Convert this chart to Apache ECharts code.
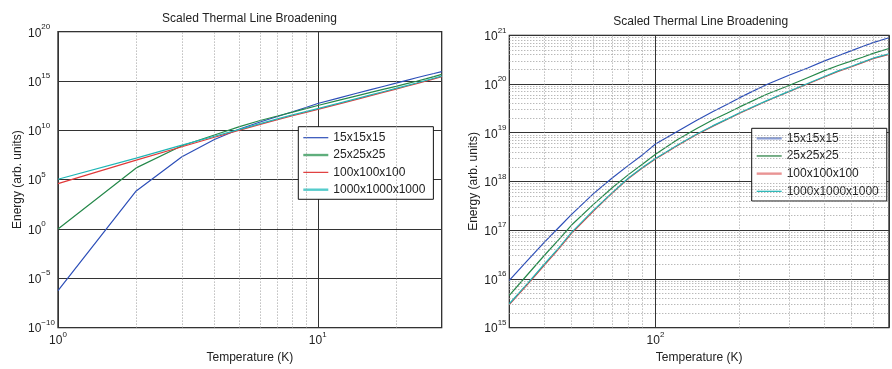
<!DOCTYPE html>
<html>
<head>
<meta charset="utf-8">
<title>Scaled Thermal Line Broadening</title>
<script src="https://cdn.jsdelivr.net/npm/echarts@6/dist/echarts.min.js"></script>
<style>
  html, body { margin: 0; padding: 0; background: #fff; }
  #chart { width: 892px; height: 369px; }
</style>
</head>
<body>
<div id="chart"></div>
<script>
// Lattice sizes of the four runs
const seriesNames = ['15x15x15', '25x25x25', '100x100x100', '1000x1000x1000'];

// Low-temperature sweep: temperature (K) and log10 of the energy (arb. units)
const lowTemps   = [1, 2, 3, 4, 5, 6, 7, 8, 9, 10, 12, 14, 16, 18, 20, 22, 24, 26, 28, 30];
const lowExp15   = [-6.26, 3.85, 7.32, 9.07, 10.13, 10.84, 11.40, 11.88, 12.31, 12.72, 13.27, 13.73, 14.13, 14.47, 14.78, 15.07, 15.33, 15.56, 15.76, 15.95];
const lowExp25   = [0.00, 6.19, 8.44, 9.53, 10.37, 11.00, 11.45, 11.85, 12.20, 12.52, 13.03, 13.47, 13.85, 14.17, 14.46, 14.73, 14.98, 15.22, 15.45, 15.67];
const lowExp100  = [4.60, 6.98, 8.34, 9.30, 10.02, 10.60, 11.08, 11.48, 11.82, 12.12, 12.66, 13.12, 13.52, 13.87, 14.18, 14.47, 14.73, 14.98, 15.22, 15.44];
const lowExp1000 = [5.04, 7.18, 8.50, 9.40, 10.10, 10.68, 11.16, 11.56, 11.90, 12.20, 12.73, 13.19, 13.59, 13.94, 14.25, 14.54, 14.80, 15.05, 15.28, 15.50];

// High-temperature sweep: temperature (K) and log10 of the energy (arb. units)
const highTemps   = [30, 35, 40, 45, 50, 60, 70, 80, 90, 100, 120, 140, 160, 180, 200, 250, 300, 350, 400, 450, 500, 550, 600, 684];
const highExp15   = [15.97, 16.39, 16.75, 17.05, 17.32, 17.75, 18.07, 18.33, 18.55, 18.77, 19.03, 19.25, 19.43, 19.58, 19.72, 19.99, 20.18, 20.33, 20.47, 20.58, 20.68, 20.77, 20.85, 20.95];
const highExp25   = [15.66, 16.10, 16.48, 16.80, 17.10, 17.53, 17.87, 18.14, 18.36, 18.56, 18.86, 19.08, 19.26, 19.40, 19.53, 19.79, 19.97, 20.13, 20.27, 20.38, 20.47, 20.55, 20.63, 20.73];
const highExp100  = [15.47, 15.90, 16.28, 16.61, 16.93, 17.39, 17.76, 18.06, 18.28, 18.46, 18.74, 18.96, 19.13, 19.27, 19.40, 19.65, 19.84, 20.00, 20.14, 20.26, 20.35, 20.44, 20.52, 20.61];
const highExp1000 = [15.49, 15.92, 16.30, 16.63, 16.95, 17.41, 17.77, 18.07, 18.29, 18.47, 18.75, 18.97, 19.14, 19.28, 19.41, 19.66, 19.85, 20.01, 20.15, 20.27, 20.36, 20.45, 20.53, 20.62];

// Minor (dotted) grid positions
const lowMinorTemps  = [2, 3, 4, 5, 6, 7, 8, 9, 20];
const highMinorTemps = [40, 50, 60, 70, 80, 90, 200, 300, 400, 500, 600];
const highMinorDecades = [15, 16, 17, 18, 19, 20];
const minorMultipliers = [2, 3, 4, 5, 6, 7, 8, 9];

const FONT = '"Liberation Sans", Arial, Helvetica, sans-serif';
const TEXT = '#222';
const lineColors = ['#2d4fb8', '#25884a', '#e03a3a', '#1fb6b6'];

const chart = echarts.init(document.getElementById('chart'), null, { renderer: 'canvas' });

// "10^n" tick labels with a raised exponent
function powerLabel(value) {
  const e = Math.log10(value);
  const r = Math.round(e);
  if (Math.abs(e - r) > 1e-6) return '';
  const exp = r < 0 ? '\u2212' + (-r) : String(r);
  return '{b|10}{s|' + exp + '}';
}
const powerRich = {
  b: { fontSize: 12, fontFamily: FONT, color: TEXT, padding: [3, 0, 0, 0] },
  s: { fontSize: 8, fontFamily: FONT, color: TEXT, padding: [0, 0, 10, 0] }
};

function toPoints(xs, exps) {
  return xs.map((x, i) => [x, Math.pow(10, exps[i])]);
}

function curve(name, xs, exps, color, idx) {
  return {
    name: name,
    type: 'line',
    xAxisIndex: idx,
    yAxisIndex: idx,
    symbol: 'none',
    smooth: false,
    silent: true,
    z: 3,
    data: toPoints(xs, exps),
    lineStyle: { color: color, width: 1.2 },
    itemStyle: { color: color }
  };
}

function dottedLines(items) {
  return {
    silent: true,
    symbol: 'none',
    animation: false,
    label: { show: false },
    emphasis: { disabled: true },
    lineStyle: { color: '#9c9c9c', width: 1, type: [1, 2] },
    data: items
  };
}

const highMinorY = [];
highMinorDecades.forEach(d => minorMultipliers.forEach(m => highMinorY.push({ yAxis: m * Math.pow(10, d) })));

function legendItems(styles) {
  return seriesNames.map((n, i) => ({
    name: n,
    icon: 'path://M0,0H25V' + styles[i].w + 'H0Z',
    itemStyle: { color: styles[i].c }
  }));
}

const commonLegend = {
  orient: 'vertical',
  itemWidth: 25,
  itemHeight: 14,
  backgroundColor: '#fff',
  borderColor: '#111',
  borderWidth: 1,
  borderRadius: 0,
  selectedMode: false,
  textStyle: { fontSize: 12, color: TEXT, fontFamily: FONT, lineHeight: 14 }
};

const axisName = { fontSize: 12, color: TEXT, fontFamily: FONT };
const majorLine = { show: true, lineStyle: { color: '#333', width: 1, type: 'solid' } };

const option = {
  animation: false,
  backgroundColor: '#fff',
  textStyle: { fontFamily: FONT },
  title: [
    { text: 'Scaled Thermal Line Broadening', left: 249.5, top: 13, textAlign: 'center', padding: 0,
      textStyle: { fontSize: 12, fontWeight: 'normal', color: TEXT, fontFamily: FONT } },
    { text: 'Scaled Thermal Line Broadening', left: 700.7, top: 16, textAlign: 'center', padding: 0,
      textStyle: { fontSize: 12, fontWeight: 'normal', color: TEXT, fontFamily: FONT } }
  ],
  grid: [
    { left: 58, top: 31.7, right: 450.3, bottom: 35.7, show: true, borderColor: '#111', borderWidth: 1.2, backgroundColor: 'transparent', containLabel: false },
    { left: 509.3, top: 35.3, right: 0, bottom: 31.3, show: true, borderColor: '#111', borderWidth: 1.2, backgroundColor: 'transparent', containLabel: false }
  ],
  xAxis: [
    { type: 'log', gridIndex: 0, logBase: 10, min: 1, max: 30,
      axisLine: { show: false }, axisTick: { show: false },
      splitLine: majorLine,
      axisLabel: { formatter: powerLabel, rich: powerRich, margin: 3, showMinLabel: true, showMaxLabel: true, hideOverlap: false },
      name: 'Temperature (K)', nameLocation: 'middle', nameGap: 19, nameTextStyle: axisName },
    { type: 'log', gridIndex: 1, logBase: 10, min: 30, max: 684,
      axisLine: { show: false }, axisTick: { show: false },
      splitLine: majorLine,
      axisLabel: { formatter: powerLabel, rich: powerRich, margin: 3, showMinLabel: true, showMaxLabel: true, hideOverlap: false },
      name: 'Temperature (K)', nameLocation: 'middle', nameGap: 19, nameTextStyle: axisName }
  ],
  yAxis: [
    { type: 'log', gridIndex: 0, logBase: 100000, min: 1e-10, max: 1e20, splitNumber: 6,
      axisLine: { show: false }, axisTick: { show: false },
      splitLine: majorLine,
      axisLabel: { formatter: powerLabel, rich: powerRich, margin: 30, align: 'left', showMinLabel: true, showMaxLabel: true, hideOverlap: false },
      name: 'Energy (arb. units)', nameLocation: 'middle', nameGap: 34, nameTextStyle: axisName },
    { type: 'log', gridIndex: 1, logBase: 10, min: 1e15, max: 1e21, splitNumber: 6,
      axisLine: { show: false }, axisTick: { show: false },
      splitLine: majorLine,
      axisLabel: { formatter: powerLabel, rich: powerRich, margin: 25, align: 'left', showMinLabel: true, showMaxLabel: true, hideOverlap: false },
      name: 'Energy (arb. units)', nameLocation: 'middle', nameGap: 30, nameTextStyle: axisName }
  ],
  legend: [
    Object.assign({}, commonLegend, {
      left: 298.3, top: 126.7, padding: [4, 8, 2.6, 5], itemGap: 3.33,
      data: legendItems([
        { c: '#2d4fb8', w: 1.2 }, { c: '#5fae7c', w: 2.4 }, { c: '#e03a3a', w: 1.2 }, { c: '#55cccc', w: 2.4 }
      ])
    }),
    Object.assign({}, commonLegend, {
      left: 751.7, top: 128.3, padding: [3, 8, 2.7, 5], itemGap: 3.67,
      data: legendItems([
        { c: '#8a9dd4', w: 2.4 }, { c: '#1f7a3a', w: 1.2 }, { c: '#e99494', w: 2.4 }, { c: '#1db3b3', w: 1.2 }
      ])
    })
  ],
  series: [
    { name: 'lowMinorGrid', type: 'line', xAxisIndex: 0, yAxisIndex: 0, data: [], z: 1, silent: true,
      markLine: dottedLines(lowMinorTemps.map(t => ({ xAxis: t }))) },
    { name: 'highMinorGrid', type: 'line', xAxisIndex: 1, yAxisIndex: 1, data: [], z: 1, silent: true,
      markLine: dottedLines(highMinorTemps.map(t => ({ xAxis: t })).concat(highMinorY)) },

    curve(seriesNames[0], lowTemps, lowExp15, lineColors[0], 0),
    curve(seriesNames[1], lowTemps, lowExp25, lineColors[1], 0),
    curve(seriesNames[2], lowTemps, lowExp100, lineColors[2], 0),
    curve(seriesNames[3], lowTemps, lowExp1000, lineColors[3], 0),

    curve(seriesNames[0], highTemps, highExp15, lineColors[0], 1),
    curve(seriesNames[1], highTemps, highExp25, lineColors[1], 1),
    curve(seriesNames[2], highTemps, highExp100, lineColors[2], 1),
    curve(seriesNames[3], highTemps, highExp1000, lineColors[3], 1)
  ]
};

chart.setOption(option);
</script>
</body>
</html>
